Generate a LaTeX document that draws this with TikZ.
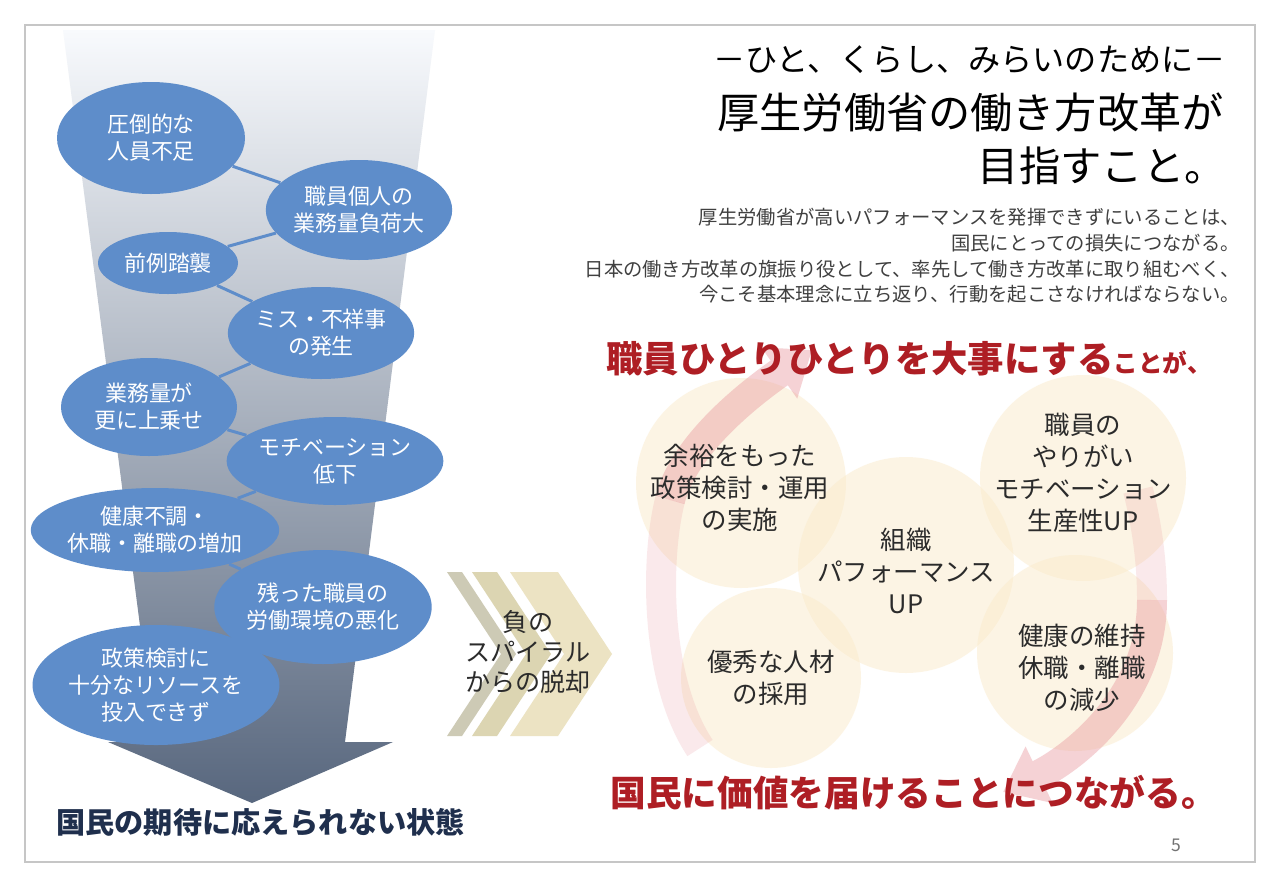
\documentclass[tikz,border=0pt]{standalone}
\usepackage{fontspec}
\setmainfont{Noto Sans CJK JP}
\usetikzlibrary{positioning,shapes.geometric,arrows.meta}
\definecolor{bubble}{HTML}{5E8DCA}
\definecolor{navy}{HTML}{1F2F4D}
\definecolor{crimson}{HTML}{AE1E24}
\definecolor{cream}{HTML}{FBEBCB}
\definecolor{rosy}{HTML}{E8959C}
\definecolor{chevA}{HTML}{CDCAB5}
\definecolor{chevB}{HTML}{DCD5B2}
\definecolor{chevC}{HTML}{ECE3C3}
\definecolor{ink}{HTML}{2B2B2B}

\begin{document}
\begin{tikzpicture}[x=0.02cm, y=-0.02cm,
    bub/.style 2 args={ellipse, fill=bubble, text=white, inner sep=0pt, align=center,
        minimum width=#1*0.02cm, minimum height=#2*0.02cm,
        font=\fontsize{12.5}{15.3}\selectfont},
    link/.style={bubble, line width=1.7pt},
    disc/.style={circle, fill=cream, fill opacity=0.5, inner sep=0pt, minimum size=#1*0.02cm},
    disctext/.style={align=center, text=ink, inner sep=0pt, font=\fontsize{14.5}{18.3}\selectfont},
    swirl/.style={rosy, line width=0.6cm},
    redhead/.style={crimson, inner sep=0pt, anchor=base west, font=\bfseries}]
    \useasboundingbox (0,0) rectangle (1280,886);
    \fill[white] (0,0) rectangle (1280,886);

    % Slide frame
    \draw[gray!45, line width=0.8pt] (25,25) rectangle (1255,862);

    % Downward funnel arrow
    \shade[top color={rgb,255:red,248;green,250;blue,253}, middle color={rgb,255:red,174;green,190;blue,216},
        bottom color={rgb,255:red,88;green,103;blue,126}]
        (63,30) -- (435,30) -- (345,742) -- (393,742) -- (252,803)
        -- (108,742) -- (155,742) -- cycle;

    % Spiral bubbles
    \node[bub={188}{112}] (e1) at (151,138) {圧倒的な\\人員不足};
    \node[bub={168}{100}] (e2) at (359,210) {職員個人の\\業務量負荷大};
    \node[bub={140}{62}]  (e3) at (168,263) {前例踏襲};
    \node[bub={170}{92}]  (e4) at (321,333) {ミス・不祥事\\の発生};
    \node[bub={176}{98}]  (e5) at (149,407) {業務量が\\更に上乗せ};
    \node[bub={188}{88}]  (e6) at (335,461) {モチベーション\\低下};
    \node[bub={212}{84}]  (e7) at (155,530) {健康不調・\\休職・離職の増加};
    \node[bub={186}{114}] (e8) at (323,607) {残った職員の\\労働環境の悪化};
    \node[bub={190}{120}] (e9) at (156,685) {政策検討に\\十分なリソースを\\投入できず};
    \foreach \a/\b in {e1/e2,e2/e3,e3/e4,e4/e5,e5/e6,e6/e7,e7/e8,e8/e9}
        \draw[link] (\a) -- (\b);

    \node[navy, inner sep=0pt, anchor=base west, font=\fontsize{16.6}{20}\selectfont\bfseries]
        (fail) at (56,833) {国民の期待に応えられない状態};

    % Chevrons
    \foreach \l/\w/\c in {447/15/chevA, 472/25/chevB, 510/48/chevC}
        \fill[\c] (\l,572) -- ++(\w,0) -- ++(54,82) -- ++(-54,82) -- ++(-\w,0) -- ++(54,-82) -- cycle;
    \node[align=center, text=ink, font=\fontsize{14.3}{17.3}\selectfont]
        (exit) at (528,652) {負の\\スパイラル\\からの脱却};

    % Title block
    \node[anchor=east, inner sep=0pt, font=\fontsize{18.3}{22}\selectfont] (motto) at (1226,60)
        {－ひと、くらし、みらいのために－};
    \node[anchor=east, inner sep=0pt, font=\fontsize{24}{28}\selectfont] (title1) at (1224,112)
        {厚生労働省の働き方改革が};
    \node[anchor=east, inner sep=0pt, font=\fontsize{23.5}{28}\selectfont] (title2) at (1226,166)
        {目指すこと。};
    \node[anchor=east, inner sep=0pt, align=right, text=black!75,
        font=\fontsize{11}{14.6}\selectfont] (para) at (1240,256)
        {厚生労働省が高いパフォーマンスを発揮できずにいることは、\\
         国民にとっての損失につながる。\\
         日本の働き方改革の旗振り役として、率先して働き方改革に取り組むべく、\\
         今こそ基本理念に立ち返り、行動を起こさなければならない。};

    % Virtuous cycle circles
    \node[disc=210] (cA) at (741,483) {};
    \node[disc=206] (cB) at (1083,478) {};
    \node[disc=216] (cC) at (906,565) {};
    \node[disc=180] (cD) at (771,678) {};
    \node[disc=196] (cE) at (1075,653) {};

    % Curved arrows
    \coordinate (la0) at (700,748);
    \coordinate (la1) at (670,500);
    \coordinate (la2) at (812,350);
    \draw[swirl, opacity=0.2] (la0) .. controls (655,680) and (655,560) .. (la1);
    \begin{scope}[transparency group, opacity=0.42]
        \draw[swirl, -{Triangle[length=0.8cm, width=1.2cm]}]
            (la1) .. controls (685,440) and (762,385) .. (la2);
    \end{scope}
    \coordinate (ra0) at (1138,490);
    \coordinate (ra1) at (1152,600);
    \coordinate (ra2) at (1003,792);
    \draw[swirl, opacity=0.2] (ra0) .. controls (1148,530) and (1152,565) .. (ra1);
    \begin{scope}[transparency group, opacity=0.42]
        \draw[swirl, -{Triangle[length=0.8cm, width=1.2cm]}]
            (ra1) .. controls (1152,700) and (1070,760) .. (ra2);
    \end{scope}

    \node[disctext] (tA) at (740,488) {余裕をもった\\政策検討・運用\\の実施};
    \node[disctext] (tB) at (1083,473) {職員の\\やりがい\\モチベーション\\生産性UP};
    \node[disctext] (tC) at (906,571) {組織\\パフォーマンス\\UP};
    \node[disctext] (tD) at (771,678) {優秀な人材\\の採用};
    \node[disctext] (tE) at (1082,668) {健康の維持\\休職・離職\\の減少};

    % Red headlines
    \node[redhead] (care) at (606,372)
        {{\fontsize{20.7}{24}\selectfont 職員ひとりひとりを大事にする}{\fontsize{14}{16}\selectfont ことが、}};
    \node[redhead, font=\fontsize{20.3}{24}\selectfont\bfseries] (value) at (610,806)
        {国民に価値を届けることにつながる。};

    % Page number
    \node[text=black!55, font=\fontsize{10}{12}\selectfont] (page) at (1176,845) {5};
\end{tikzpicture}
\end{document}
